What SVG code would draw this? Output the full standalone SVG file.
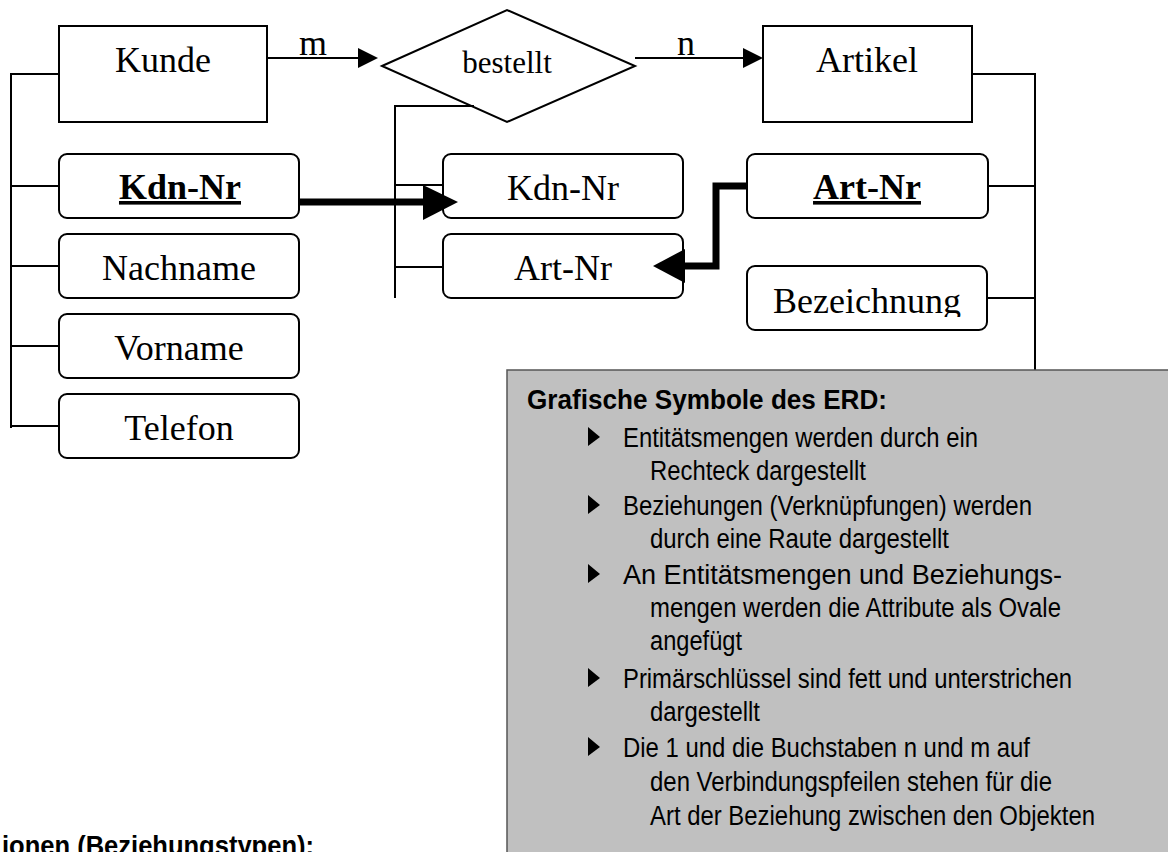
<svg xmlns="http://www.w3.org/2000/svg" width="1168" height="852" viewBox="0 0 1168 852">
<style>
.ent{fill:#fff;stroke:#000;stroke-width:2}
.attr{fill:#fff;stroke:#000;stroke-width:2}
.ln{fill:none;stroke:#000;stroke-width:2}
.thick{fill:none;stroke:#000;stroke-width:7}
.ser{font-family:"Liberation Serif","Times New Roman",serif;font-size:36px;fill:#000;text-anchor:middle}
.b{font-weight:bold;text-decoration:underline}
.body{font-family:"Liberation Sans",Arial,sans-serif;font-size:27px;fill:#000}
.ttl{font-family:"Liberation Sans",Arial,sans-serif;font-size:28px;font-weight:bold;fill:#000}
</style>
<defs>
<clipPath id="bezclip"><rect x="747" y="266" width="241" height="51"/></clipPath>
</defs>
<rect width="1168" height="852" fill="#fff"/>

<g id="kunde"><rect class="ent" x="59" y="26" width="208" height="96"/><text class="ser" x="163" y="72">Kunde</text></g>
<g id="label-m"><text class="ser" x="313" y="55">m</text></g>
<g id="bestellt"><polygon class="ent" points="382,66 507,10 635,66 507,122"/><text class="ser" x="507" y="73" style="font-size:31px">bestellt</text></g>
<g id="label-n"><text class="ser" x="686" y="55">n</text></g>
<g id="artikel"><rect class="ent" x="763" y="26" width="209" height="96"/><text class="ser" x="867" y="72">Artikel</text></g>

<g id="kunde-kdnnr"><rect class="attr" x="59" y="154" width="240" height="64" rx="8"/><text class="ser b" x="180" y="199">Kdn-Nr</text></g>
<g id="nachname"><rect class="attr" x="59" y="234" width="240" height="64" rx="8"/><text class="ser" x="179" y="280">Nachname</text></g>
<g id="vorname"><rect class="attr" x="59" y="314" width="240" height="64" rx="8"/><text class="ser" x="179" y="360">Vorname</text></g>
<g id="telefon"><rect class="attr" x="59" y="394" width="240" height="64" rx="8"/><text class="ser" x="179" y="440">Telefon</text></g>

<g id="bestellt-kdnnr"><rect class="attr" x="443" y="154" width="240" height="64" rx="8"/><text class="ser" x="563" y="200">Kdn-Nr</text></g>
<g id="bestellt-artnr"><rect class="attr" x="443" y="234" width="240" height="64" rx="8"/><text class="ser" x="563" y="280">Art-Nr</text></g>

<g id="artikel-artnr"><rect class="attr" x="747" y="154" width="241" height="64" rx="8"/><text class="ser b" x="867" y="199">Art-Nr</text></g>
<g id="bezeichnung"><rect class="attr" x="747" y="266" width="240" height="64" rx="8"/><text class="ser" x="867" y="313" clip-path="url(#bezclip)">Bezeichnung</text></g>

<g id="connectors">
<path class="ln" d="M59,74 H11 V428 M11,186 H59 M11,266 H59 M11,346 H59 M11,426 H59"/>
<path class="ln" d="M267,58 H360"/>
<polygon points="358,48 378,58 358,68" fill="#000"/>
<path class="ln" d="M635,58 H745"/>
<polygon points="743,48 763,58 743,68" fill="#000"/>
<path class="ln" d="M474,106 H395 V298 M395,185 H443 M395,267 H443"/>
<path class="ln" d="M972,74 H1035 V370 M988,186 H1035 M987,298 H1035"/>
<path class="thick" d="M299,202 H425"/>
<polygon points="423,185 458,202 423,220" fill="#000"/>
<path class="thick" d="M747,186 H716 V266 H683"/>
<polygon points="685,249 653,266 685,283" fill="#000"/>
</g>

<g id="legend">
<rect x="507" y="370" width="670" height="490" fill="#c0c0c0"/>
<path d="M1170,370 H507 V854" fill="none" stroke="#555" stroke-width="1.5"/>
<text class="ttl" x="527" y="409" textLength="360" lengthAdjust="spacingAndGlyphs">Grafische Symbole des ERD:</text>
<g fill="#000">
<polygon points="588,427 600,437 588,446"/>
<polygon points="588,495 600,505 588,514"/>
<polygon points="588,564 600,574 588,583"/>
<polygon points="588,668 600,678 588,687"/>
<polygon points="588,737 600,747 588,756"/>
</g>
<text class="body" x="623" y="447" textLength="355" lengthAdjust="spacingAndGlyphs">Entitätsmengen werden durch ein</text>
<text class="body" x="650" y="480" textLength="216" lengthAdjust="spacingAndGlyphs">Rechteck dargestellt</text>
<text class="body" x="623" y="515" textLength="409" lengthAdjust="spacingAndGlyphs">Beziehungen (Verknüpfungen) werden</text>
<text class="body" x="650" y="548" textLength="299" lengthAdjust="spacingAndGlyphs">durch eine Raute dargestellt</text>
<text class="body" x="623" y="584" textLength="439" lengthAdjust="spacingAndGlyphs">An Entitätsmengen und Beziehungs-</text>
<text class="body" x="650" y="617" textLength="411" lengthAdjust="spacingAndGlyphs">mengen werden die Attribute als Ovale</text>
<text class="body" x="650" y="650" textLength="92" lengthAdjust="spacingAndGlyphs">angefügt</text>
<text class="body" x="623" y="688" textLength="449" lengthAdjust="spacingAndGlyphs">Primärschlüssel sind fett und unterstrichen</text>
<text class="body" x="650" y="721" textLength="110" lengthAdjust="spacingAndGlyphs">dargestellt</text>
<text class="body" x="623" y="757" textLength="407" lengthAdjust="spacingAndGlyphs">Die 1 und die Buchstaben n und m auf</text>
<text class="body" x="650" y="791" textLength="402" lengthAdjust="spacingAndGlyphs">den Verbindungspfeilen stehen für die</text>
<text class="body" x="650" y="825" textLength="445" lengthAdjust="spacingAndGlyphs">Art der Beziehung zwischen den Objekten</text>
</g>

<g id="bottom-heading"><text class="ttl" x="2" y="855" textLength="312" lengthAdjust="spacingAndGlyphs">ionen (Beziehungstypen):</text></g>
</svg>
